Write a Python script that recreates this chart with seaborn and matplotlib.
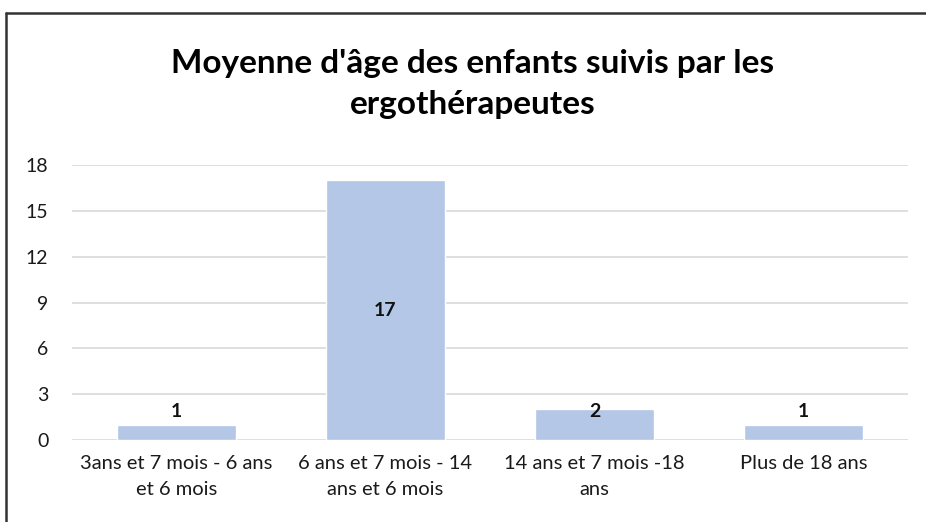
import pandas as pd
import matplotlib.pyplot as plt
import seaborn as sns

# Data
categories = ['3ans et 7 mois - 6 ans\net 6 mois', '6 ans et 7 mois - 14\nans et 6 mois',
              '14 ans et 7 mois -18\nans', 'Plus de 18 ans']
counts = [1, 17, 2, 1]
y_ticks = [0, 3, 6, 9, 12, 15, 18]

df = pd.DataFrame({'tranche': categories, 'enfants': counts})

sns.set_theme(style='white')
plt.rcParams['font.family'] = ['Lato', 'DejaVu Sans']

fig = plt.figure(figsize=(9.26, 5.22), dpi=100)
ax = fig.add_axes([72 / 926, 1 - 440 / 522, 836 / 926, 275 / 522])

sns.barplot(data=df, x='tranche', y='enfants', color='#b4c7e7', saturation=1,
            width=0.565, ax=ax, zorder=2)

ax.set_ylim(0, 18)
ax.set_yticks(y_ticks)
ax.yaxis.grid(True, color='#d9d9d9', linewidth=1.2, zorder=0)
ax.set_axisbelow(True)
sns.despine(ax=ax, left=True, bottom=True, top=True, right=True)
ax.tick_params(axis='y', length=0, pad=17, labelsize=14, labelcolor='#1a1a1a')
ax.tick_params(axis='x', length=0, pad=11, labelsize=14.5, labelcolor='#1a1a1a')
for lbl in ax.get_xticklabels():
    lbl.set_linespacing(1.6)
ax.set_xlabel('')
ax.set_ylabel('')

# value labels
for i, v in enumerate(counts):
    y = v / 2 if v > 4 else 1.85
    ax.text(i, y, str(v), ha='center', va='center', fontsize=14,
            fontweight='bold', color='#111111', zorder=3)

fig.text(473 / 926, 1 - 84 / 522,
         "Moyenne d'âge des enfants suivis par les\nergothérapeutes",
         ha='center', va='center', fontsize=24, fontweight='bold',
         linespacing=1.5, color='black')

# chart frame (top and left edges visible)
fig.add_artist(plt.Line2D([6 / 926, 1], [1 - 13 / 522, 1 - 13 / 522],
                          transform=fig.transFigure, color='#333333', linewidth=1.8))
fig.add_artist(plt.Line2D([6 / 926, 6 / 926], [0, 1 - 13 / 522],
                          transform=fig.transFigure, color='#333333', linewidth=1.8))

plt.savefig('out.png', dpi=100)
